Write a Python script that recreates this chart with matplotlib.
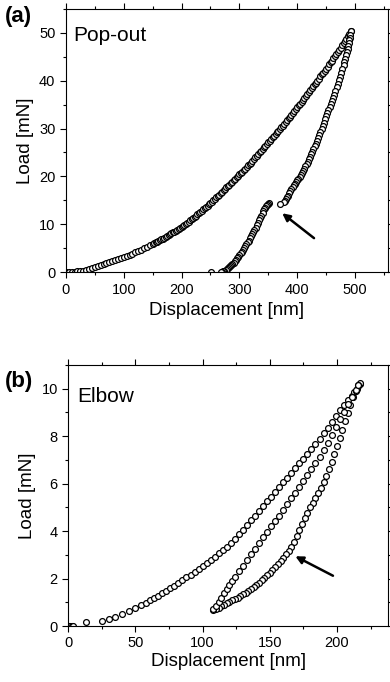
import matplotlib
matplotlib.use("Agg")
import matplotlib.pyplot as plt
from matplotlib.ticker import MultipleLocator

# =========================================================
# Data read from the figure : panel (a) Pop-out
# =========================================================

a_load_x = [0, 5, 10, 15, 20, 25, 30, 35, 40, 45, 50, 55, 60, 65, 70, 75, 80,
            85, 90, 95, 100, 105, 110, 115, 120, 125, 130, 135, 140, 145,
            150, 152.5, 155, 157.5, 160, 162.5, 165, 167.5, 170, 172.5, 175,
            177.5, 180, 182.5, 185, 187.5, 190, 192.5, 195, 197.5, 200, 202.5,
            205, 207.5, 210, 212.5, 215, 217.5, 220, 222.5, 225, 227.5, 230,
            232.5, 235, 237.5, 240, 242.5, 245, 247.5, 250, 252.5, 255, 257.5,
            260, 262.5, 265, 267.5, 270, 272.5, 275, 277.5, 280, 282.5, 285,
            287.5, 290, 292.5, 295, 297.5, 300, 302.5, 305, 307.5, 310, 312.5,
            315, 317.5, 320, 322.5, 325, 327.5, 330, 332.5, 335, 337.5, 340,
            342.5, 345, 347.5, 350, 352.5, 355, 357.5, 360, 362.5, 365, 367.5,
            370, 372.5, 375, 377.5, 380, 382.5, 385, 387.5, 390, 392.5, 395,
            397.5, 400, 402.5, 405, 407.5, 410, 412.5, 415, 417.5, 420, 422.5,
            425, 427.5, 430, 432.5, 435, 437.5, 440, 442.5, 445, 447.5, 450,
            452.5, 455, 457.5, 460, 462.5, 465, 467.5, 470, 472.5, 475, 477.5,
            480, 482.5, 485, 487.5, 490, 493]
a_load_y = [0.0, 0.02, 0.05, 0.1, 0.15, 0.22, 0.3, 0.45, 0.6, 0.8, 1.0, 1.2,
            1.4, 1.65, 1.85, 2.05, 2.25, 2.45, 2.7, 2.9, 3.1, 3.35, 3.6, 3.85,
            4.1, 4.4, 4.7, 5.0, 5.3, 5.6,
            5.9, 6.05, 6.2, 6.35, 6.5, 6.67, 6.85, 7.02, 7.2, 7.37, 7.55,
            7.72, 7.9, 8.1, 8.3, 8.47, 8.65, 8.82, 9.0, 9.2, 9.4, 9.62,
            9.85, 10.07, 10.3, 10.55, 10.8, 11.05, 11.3, 11.55, 11.8, 12.05,
            12.3, 12.57, 12.85, 13.12, 13.4, 13.65, 13.9, 14.15, 14.4, 14.7,
            15.0, 15.3, 15.6, 15.9, 16.2, 16.5, 16.8, 17.1, 17.4, 17.7, 18.0,
            18.3, 18.6, 18.9, 19.2, 19.5, 19.8, 20.1, 20.4, 20.7, 21.0, 21.3,
            21.6, 21.95, 22.3, 22.6, 22.9, 23.25, 23.6, 23.95, 24.3, 24.65,
            25.0, 25.35, 25.7, 26.05, 26.4, 26.75, 27.1, 27.45, 27.8, 28.15,
            28.5, 28.85, 29.2, 29.55, 29.9, 30.25, 30.6, 31.0, 31.4, 31.75,
            32.1, 32.5, 32.9, 33.3, 33.7, 34.1, 34.5, 34.85, 35.2, 35.6, 36.0,
            36.4, 36.8, 37.2, 37.6, 38.0, 38.4, 38.8, 39.2, 39.6, 40.0, 40.45,
            40.9, 41.3, 41.7, 42.1, 42.5, 42.95, 43.4, 43.8, 44.2, 44.65,
            45.1, 45.55, 46.0, 46.45, 46.9, 47.35, 47.8, 48.3, 48.8, 49.3,
            49.8, 50.3]

# unloading, upper part (above the pop-out)
a_unl_hi_x = [493, 492, 491, 490, 489, 488, 487, 486, 484.5, 483, 481.5, 480,
              478, 476, 474, 472, 470, 468, 466, 464, 462, 460, 458, 456, 454,
              452, 450, 448, 446, 444, 442, 440, 438, 436, 434, 432, 430, 428,
              426, 424, 422, 420, 418, 416, 414, 412, 410, 408, 406, 404, 402,
              400, 398, 396, 394, 392, 390, 388, 386, 384, 382, 380, 378.5,
              377, 371]
a_unl_hi_y = [50.3, 49.5, 48.95, 48.4, 47.8, 47.2, 46.6, 46.0, 45.3, 44.6,
              43.9, 43.2, 42.4, 41.6, 40.85, 40.1, 39.35, 38.6, 37.85, 37.1,
              36.45, 35.8, 35.15, 34.5, 33.85, 33.2, 32.55, 31.9, 31.25, 30.6,
              29.95, 29.3, 28.65, 28.0, 27.4, 26.8, 26.25, 25.7, 25.15, 24.6,
              24.1, 23.6, 23.1, 22.6, 22.1, 21.6, 21.15, 20.7, 20.3, 19.9,
              19.55, 19.2, 18.85, 18.5, 18.1, 17.7, 17.3, 16.9, 16.45, 16.0,
              15.6, 15.2, 14.9, 14.6, 14.3]

# unloading, lower part (below the pop-out)
a_unl_lo_x = [351, 349, 347.5, 346, 344.5, 343, 341.5, 340, 338, 336, 334, 332,
              330, 328, 326, 324, 322, 320, 318, 316, 314, 312, 310, 308, 306,
              304, 302, 300, 298, 296, 294, 292, 290, 288, 286, 284, 282, 280,
              278, 276, 274, 272, 270, 268, 251]
a_unl_lo_y = [14.5, 14.3, 14.05, 13.8, 13.45, 13.1, 12.7, 12.3, 11.8, 11.3,
              10.8, 10.3, 9.8, 9.3, 8.85, 8.4, 7.95, 7.5, 7.05, 6.6, 6.2, 5.8,
              5.4, 5.0, 4.65, 4.3, 3.95, 3.6, 3.25, 2.9, 2.6, 2.3, 2.0, 1.7,
              1.45, 1.2, 1.0, 0.8, 0.62, 0.45, 0.32, 0.2, 0.1, 0.0, 0.0]

# =========================================================
# Data read from the figure : panel (b) Elbow
# =========================================================

b_load_x = [0.5, 1.5, 2.5, 3.5, 13, 25, 30, 35, 40, 45, 50, 54, 58, 61, 64,
            67, 70, 73, 76, 79, 82, 85, 88, 91, 94, 97, 100, 103, 106, 109,
            112, 115, 118, 121, 124, 127, 130, 133, 136, 139, 142, 145, 148,
            151, 154, 157, 160, 163, 166, 169, 172, 175, 178, 181, 184, 187,
            190, 193, 196, 199, 202, 205, 208, 211, 213, 215, 216, 217]
b_load_y = [0.0, 0.0, 0.02, 0.02, 0.16, 0.22, 0.3, 0.4, 0.5, 0.62, 0.76, 0.88,
            0.98, 1.08, 1.18, 1.28, 1.38, 1.48, 1.6, 1.7, 1.82, 1.93, 2.05,
            2.17, 2.28, 2.4, 2.52, 2.65, 2.78, 2.92, 3.06, 3.2, 3.35, 3.5, 3.68,
            3.87, 4.06, 4.25, 4.45, 4.65, 4.85, 5.05, 5.25, 5.45, 5.65, 5.85,
            6.05, 6.25, 6.45, 6.65, 6.85, 7.05, 7.25, 7.46, 7.67, 7.89, 8.11,
            8.34, 8.58, 8.83, 9.08, 9.3, 9.5, 9.7, 9.85, 10.0, 10.1, 10.2]

# unloading branch (right, with the elbow)
b_unl_x = [217, 216, 214, 212, 210, 208, 206, 204, 202, 200, 198, 196, 194,
           192, 190, 188, 186, 184, 182, 180, 178, 176, 174, 172, 170, 168,
           166, 164, 162, 160, 158, 156, 154, 152, 150, 148, 146, 144, 142,
           140, 138, 136, 134, 132, 130, 128, 126, 124, 122, 120, 118, 116,
           114, 112, 110, 108]
b_unl_y = [10.25, 10.15, 9.92, 9.65, 9.32, 8.98, 8.62, 8.27, 7.92, 7.58, 7.25,
           6.92, 6.6, 6.3, 6.05, 5.8, 5.6, 5.4, 5.2, 5.0, 4.78, 4.55, 4.3,
           4.05, 3.8, 3.56, 3.35, 3.17, 3.02, 2.88, 2.74, 2.6, 2.47, 2.35,
           2.24, 2.13, 2.03, 1.93, 1.83, 1.74, 1.65, 1.57, 1.49, 1.41, 1.34,
           1.27, 1.2, 1.14, 1.08, 1.02, 0.96, 0.9, 0.84, 0.78, 0.72, 0.68]

# reloading branch (middle)
b_rel_x = [108, 110, 112, 114, 116, 118, 120, 122, 124, 127, 130, 133, 136,
           139, 142, 145, 148, 151, 154, 157, 160, 163, 166, 169, 172, 175,
           178, 181, 184, 187, 190, 193, 196, 199, 202, 205, 208, 211, 214, 216]
b_rel_y = [0.7, 0.85, 1.0, 1.2, 1.38, 1.55, 1.72, 1.9, 2.07, 2.32, 2.55, 2.78,
           3.02, 3.26, 3.5, 3.74, 3.98, 4.2, 4.42, 4.65, 4.9, 5.14, 5.38, 5.6,
           5.85, 6.1, 6.35, 6.6, 6.87, 7.14, 7.42, 7.72, 8.04, 8.38, 8.7, 9.02,
           9.35, 9.65, 9.95, 10.15]

# =========================================================
# Figure setup
# =========================================================

plt.rcParams["font.family"] = ["Liberation Sans", "DejaVu Sans"]

fig = plt.figure(figsize=(3.9, 6.82), dpi=100)

ax_a = fig.add_axes([0.169, 0.601, 0.826, 0.386])
ax_b = fig.add_axes([0.175, 0.082, 0.820, 0.383])

marker_style = dict(
    linestyle="none",
    marker="o",
    markersize=4.2,
    markerfacecolor="white",
    markeredgecolor="black",
    markeredgewidth=0.9
)


def style_axes(ax):
    ax.tick_params(which="both", direction="out", top=True, right=True,
                   labelsize=10.5, width=0.8)
    ax.tick_params(which="major", length=4)
    ax.tick_params(which="minor", length=2.5)
    for spine in ax.spines.values():
        spine.set_linewidth(0.8)


# =========================================================
# Panel (a)
# =========================================================

ax_a.plot(a_load_x, a_load_y, **marker_style)
ax_a.plot(a_unl_hi_x, a_unl_hi_y, **marker_style)
ax_a.plot(a_unl_lo_x, a_unl_lo_y, **marker_style)

ax_a.set_xlim(0, 557)
ax_a.set_ylim(0, 55)
ax_a.xaxis.set_major_locator(MultipleLocator(100))
ax_a.xaxis.set_minor_locator(MultipleLocator(50))
ax_a.yaxis.set_major_locator(MultipleLocator(10))
ax_a.yaxis.set_minor_locator(MultipleLocator(5))
style_axes(ax_a)

ax_a.set_xlabel("Displacement [nm]", fontsize=13.5, labelpad=4)
ax_a.set_ylabel("Load [mN]", fontsize=13.5, labelpad=4)

ax_a.text(12, 49.4, "Pop-out", fontsize=15, va="center", ha="left")

ax_a.annotate(
    "",
    xy=(374, 12.3),
    xytext=(429, 7.1),
    arrowprops=dict(arrowstyle="-|>", color="black", lw=1.8,
                    mutation_scale=11, shrinkA=0, shrinkB=0)
)

fig.text(0.012, 0.976, "(a)", fontsize=16, fontweight="bold",
         va="center", ha="left")

# =========================================================
# Panel (b)
# =========================================================

ax_b.plot(b_load_x, b_load_y, **marker_style)
ax_b.plot(b_unl_x, b_unl_y, **marker_style)
ax_b.plot(b_rel_x, b_rel_y, **marker_style)

ax_b.set_xlim(0, 238)
ax_b.set_ylim(0, 11)
ax_b.xaxis.set_major_locator(MultipleLocator(50))
ax_b.xaxis.set_minor_locator(MultipleLocator(25))
ax_b.yaxis.set_major_locator(MultipleLocator(2))
ax_b.yaxis.set_minor_locator(MultipleLocator(1))
style_axes(ax_b)

ax_b.set_xlabel("Displacement [nm]", fontsize=13.5, labelpad=2)
ax_b.set_ylabel("Load [mN]", fontsize=13.5, labelpad=4)

ax_b.text(6.4, 9.65, "Elbow", fontsize=15, va="center", ha="left")

ax_b.annotate(
    "",
    xy=(169, 2.94),
    xytext=(197, 2.12),
    arrowprops=dict(arrowstyle="-|>", color="black", lw=1.8,
                    mutation_scale=11, shrinkA=0, shrinkB=0)
)

fig.text(0.012, 0.44, "(b)", fontsize=16, fontweight="bold",
         va="center", ha="left")

plt.savefig("out.png", dpi=100)
plt.close()
